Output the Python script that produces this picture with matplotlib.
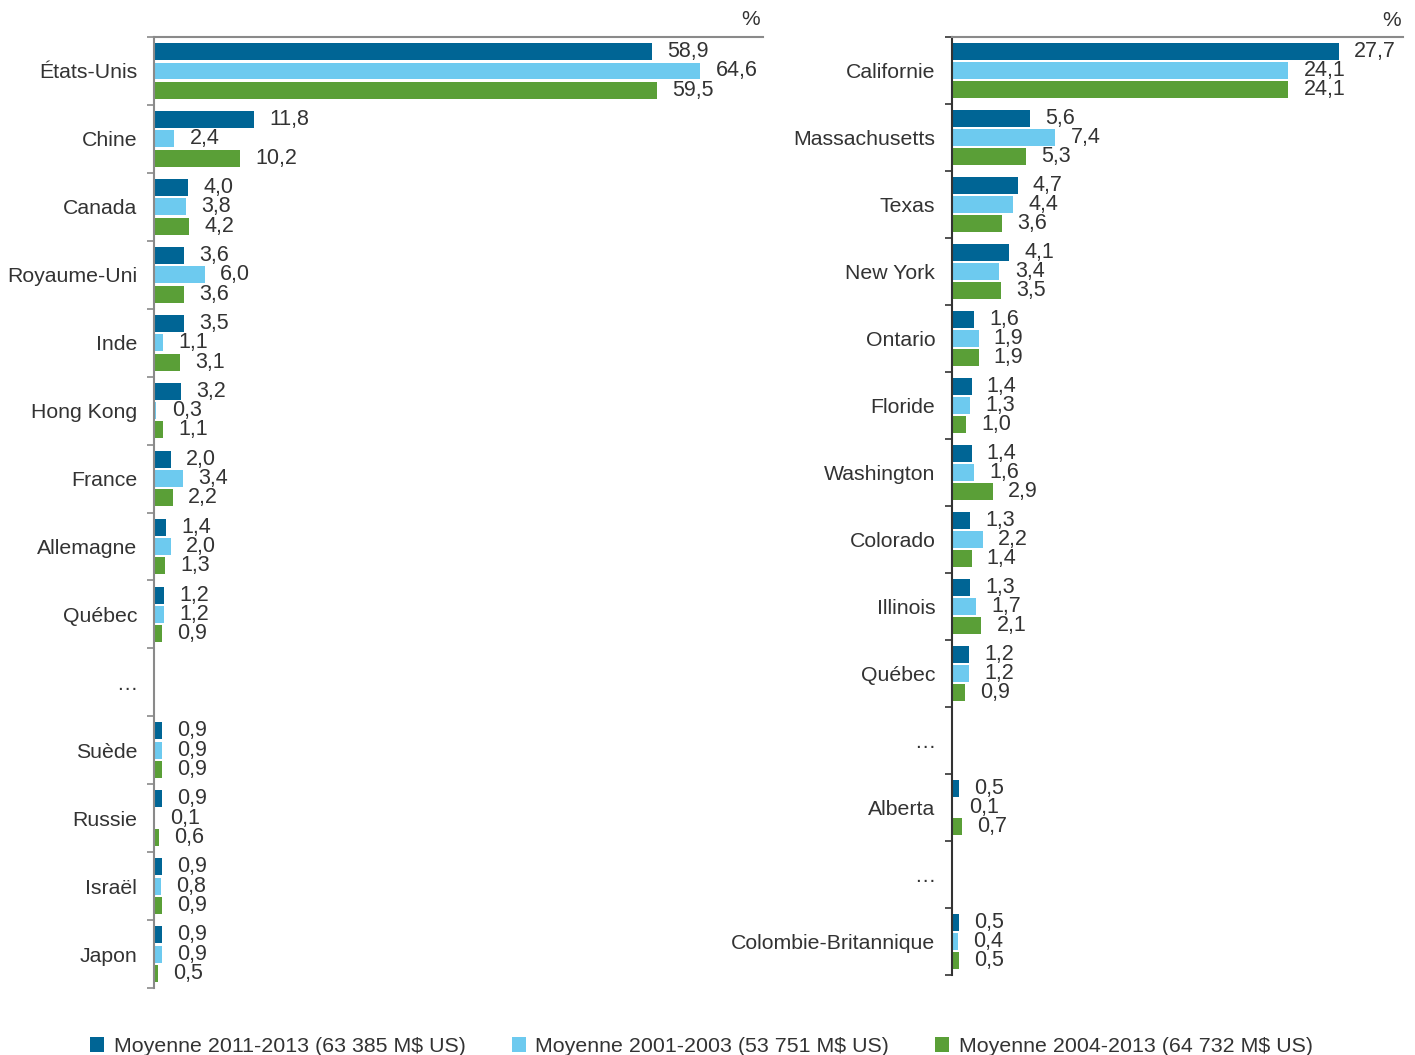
import matplotlib
matplotlib.use("Agg")
import matplotlib.pyplot as plt
from matplotlib.patches import Patch

plt.rcParams["font.family"] = ["Liberation Sans", "DejaVu Sans"]

series = ["Moyenne 2011-2013 (63 385 M$ US)",
          "Moyenne 2001-2003 (53 751 M$ US)",
          "Moyenne 2004-2013 (64 732 M$ US)"]
colors = ["#006595", "#6dcaef", "#5a9f37"]

pays = ["États-Unis", "Chine", "Canada", "Royaume-Uni", "Inde", "Hong Kong",
        "France", "Allemagne", "Québec", "…", "Suède", "Russie", "Israël", "Japon"]
pays_2011 = [58.9, 11.8, 4.0, 3.6, 3.5, 3.2, 2.0, 1.4, 1.2, None, 0.9, 0.9, 0.9, 0.9]
pays_2001 = [64.6, 2.4, 3.8, 6.0, 1.1, 0.3, 3.4, 2.0, 1.2, None, 0.9, 0.1, 0.8, 0.9]
pays_2004 = [59.5, 10.2, 4.2, 3.6, 3.1, 1.1, 2.2, 1.3, 0.9, None, 0.9, 0.6, 0.9, 0.5]

etats = ["Californie", "Massachusetts", "Texas", "New York", "Ontario", "Floride",
         "Washington", "Colorado", "Illinois", "Québec", "…", "Alberta", "…",
         "Colombie-Britannique"]
etats_2011 = [27.7, 5.6, 4.7, 4.1, 1.6, 1.4, 1.4, 1.3, 1.3, 1.2, None, 0.5, None, 0.5]
etats_2001 = [24.1, 7.4, 4.4, 3.4, 1.9, 1.3, 1.6, 2.2, 1.7, 1.2, None, 0.1, None, 0.4]
etats_2004 = [24.1, 5.3, 3.6, 3.5, 1.9, 1.0, 2.9, 1.4, 2.1, 0.9, None, 0.7, None, 0.5]

txt = "#333333"
fig = plt.figure(figsize=(14.15, 10.55), dpi=100)
fig.patch.set_facecolor("white")


def panel(rect, cats, data, xmax, spine_col):
    ax = fig.add_axes(rect)
    n = len(cats)
    offs = [-0.285, 0.0, 0.285]
    for k, vals in enumerate(data):
        for i, v in enumerate(vals):
            if v is None:
                continue
            ax.barh(i + offs[k], v, height=0.25, color=colors[k], linewidth=0)
            ax.annotate(f"{v:.1f}".replace(".", ","), (v, i + offs[k]),
                        xytext=(11, 0), textcoords="offset points",
                        ha="left", va="center", fontsize=15.5, color=txt)
    ax.set_ylim(n - 0.5, -0.5)
    ax.set_xlim(0, xmax)
    ax.set_yticks(range(n))
    ax.set_yticklabels(cats, fontsize=15.3, color=txt)
    ax.set_yticks([i - 0.5 for i in range(n + 1)], minor=True)
    ax.tick_params(axis="y", which="major", length=0, pad=12)
    ax.tick_params(axis="y", which="minor", length=5, width=1.2, color=spine_col)
    ax.set_xticks([])
    for s in ["right", "bottom"]:
        ax.spines[s].set_visible(False)
    ax.spines["top"].set_color("#8a8a8a")
    ax.spines["top"].set_linewidth(1.5)
    ax.spines["left"].set_color(spine_col)
    ax.spines["left"].set_linewidth(1.5)
    ax.text(0.995, 1.008, "%", transform=ax.transAxes, ha="right", va="bottom",
            fontsize=15, color=txt)
    return ax


panel([0.1088, 0.0635, 0.4304, 0.9014], pays,
      [pays_2011, pays_2001, pays_2004], 72.0, "#8a8a8a")
panel([0.6728, 0.0758, 0.3187, 0.8891], etats,
      [etats_2011, etats_2001, etats_2004], 32.3, "#333333")

handles = [Patch(facecolor=c, edgecolor="none") for c in colors]
fig.legend(handles, series, ncol=3, loc="center", bbox_to_anchor=(0.4958, 0.008),
           frameon=False, fontsize=15.4, handlelength=0.65, handleheight=0.65,
           handletextpad=0.45, columnspacing=2.15, labelcolor=txt)

plt.savefig("out.png", dpi=100, facecolor="white")
plt.close()
